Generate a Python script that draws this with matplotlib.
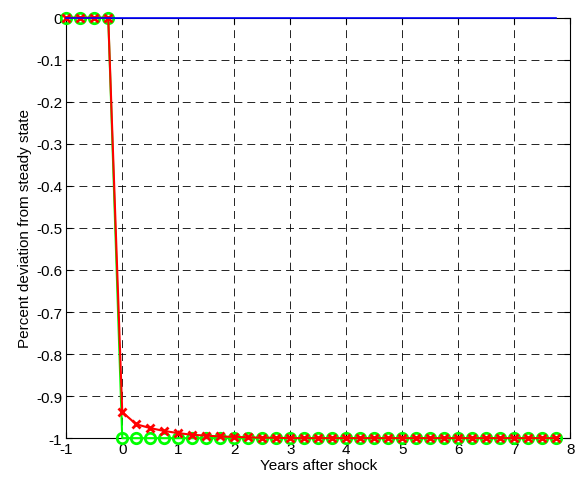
import numpy as np
import matplotlib
matplotlib.use("Agg")
import matplotlib.pyplot as plt

plt.rcParams['font.family'] = ['Liberation Sans', 'DejaVu Sans']
plt.rcParams['axes.unicode_minus'] = False

# quarterly periods, four before the shock and 32 after
years = [-1, -0.75, -0.5, -0.25] + [q / 4 for q in range(32)]

# baseline (blue), green series (circles), red series (crosses)
baseline = [0.0] * 36
green = [0, 0, 0, 0] + [-1.0] * 32
red = [0, 0, 0, 0,
       -0.938, -0.967, -0.976, -0.983, -0.988, -0.992, -0.994, -0.996,
       -0.997, -0.998, -0.999, -0.999, -1.0, -1.0, -1.0, -1.0,
       -1.0, -1.0, -1.0, -1.0, -1.0, -1.0, -1.0, -1.0,
       -1.0, -1.0, -1.0, -1.0, -1.0, -1.0, -1.0, -1.0]

xticks = list(range(-1, 9))
yticks = [0, -0.1, -0.2, -0.3, -0.4, -0.5, -0.6, -0.7, -0.8, -0.9, -1]

fig = plt.figure(figsize=(5.76, 4.81), dpi=100)
ax = fig.add_axes([0.115, 0.087, 0.875, 0.874])

ax.plot(years, baseline, color='#0000ff', linewidth=1.2, zorder=6, clip_on=False)
ax.plot(years, green, color='#00ff00', linewidth=1.5, marker='o', markersize=7.5,
        markerfacecolor='none', markeredgewidth=2, zorder=4, clip_on=False)
ax.plot(years, red, color='#ff0000', linewidth=1.5, marker='x', markersize=5.5,
        markeredgewidth=2, zorder=5, clip_on=False)

ax.set_xlim(-1, 8)
ax.set_ylim(-1, 0)
ax.set_xticks(xticks)
ax.set_yticks(yticks)
ax.set_yticklabels([('%g' % t) if t != 0 else '0' for t in yticks])
ax.grid(True, color='black', linestyle=(0, (9.5, 6)), linewidth=0.6)
ax.tick_params(direction='in', labelsize=11, length=4, top=True, right=True, pad=3)
for s in ax.spines.values():
    s.set_linewidth(0.8)

ax.set_xlabel('Years after shock', fontsize=11, labelpad=1)
ax.set_ylabel('Percent deviation from steady state', fontsize=11, labelpad=3)

fig.savefig('out.png', dpi=100)
